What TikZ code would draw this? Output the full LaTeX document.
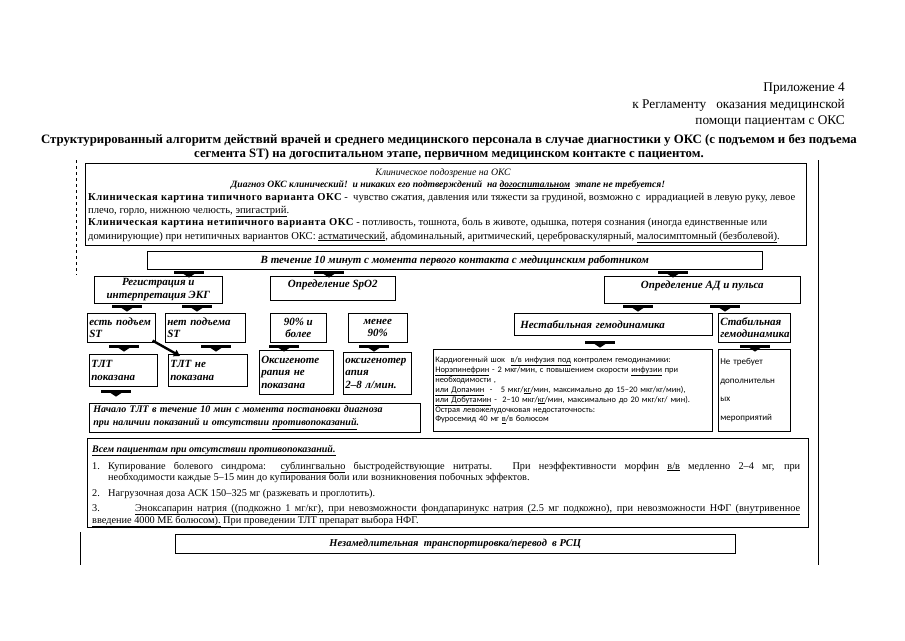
\documentclass[tikz,border=0pt]{standalone}
\usepackage{fontspec}
\setmainfont{Liberation Serif}
\newfontfamily\sansf{Carlito}
\usetikzlibrary{positioning,arrows.meta,calc}
\newcommand{\wbf}[1]{{\bfseries\addfontfeature{LetterSpace=5}#1}}

\tikzset{
  box/.style={draw, line width=0.6pt, inner sep=2pt, anchor=north west,
    font=\fontsize{11}{12.5}\selectfont\bfseries\itshape},
  txtline/.style={anchor=base west, inner sep=0pt, font=\fontsize{10.3}{11}\selectfont},
  cliline/.style={anchor=base west, inner sep=0pt, font=\fontsize{10.6}{12}\selectfont},
  frameline/.style={line width=1pt},
  blkarrow/.pic={
    \fill (-15,0) rectangle (15,3);
    \fill (-6,3) -- (6,3) -- (0,7) -- cycle;
  },
}

\begin{document}
\begin{tikzpicture}[x=1pt, y=-1pt, >=Stealth]
	\useasboundingbox (0,0) rectangle (905,640);
	% Шапка приложения
	\node[anchor=north east, align=right, inner sep=0pt, font=\fontsize{13.3}{16.5}\selectfont] (annex) at (845,83) {Приложение 4\\к Регламенту\ \ \ оказания медицинской\\помощи пациентам с ОКС};
	\node[anchor=north, align=center, inner sep=0pt, font=\fontsize{12.8}{14.5}\selectfont\bfseries] (title) at (449,134) {Структурированный алгоритм действий врачей и среднего медицинского персонала в случае диагностики у ОКС (с подъемом и без подъема\\сегмента ST) на догоспитальном этапе, первичном медицинском контакте с пациентом.};
	% Рамка справа и слева
	\draw[frameline] (818,160) -- (818,565);
	\draw[frameline, dashed] (76,160) -- (76,275);
	\draw[frameline] (80,532) -- (80,565);
	% Клиническая картина
	\node[draw, line width=0.6pt, anchor=north west, minimum width=721pt, minimum height=82pt, inner sep=0pt] (clin) at (85,163) {};
	\node[anchor=base, inner sep=0pt, font=\fontsize{9.8}{11}\selectfont\itshape] (susp) at (443,175) {Клиническое подозрение на ОКС};
	\node[anchor=base, inner sep=0pt, font=\fontsize{9.6}{11}\selectfont\bfseries\itshape] (diag) at (448,187) {Диагноз ОКС клинический!\ \ и никаких его подтверждений\ \ на \underline{догоспитальном}\ \ этапе не требуется!};
	\node[cliline] (typ1) at (88,200) {\wbf{Клиническая картина типичного варианта ОКС} -\ \ чувство сжатия, давления или тяжести за грудиной, возможно с\ \ иррадиацией в левую руку, левое};
	\node[cliline] (typ2) at (88,213) {плечо, горло, нижнюю челюсть, \underline{эпигастрий}.};
	\node[cliline] (atyp1) at (88,225) {\wbf{Клиническая картина нетипичного варианта ОКС} - потливость, тошнота, боль в животе, одышка, потеря сознания (иногда единственные или};
	\node[cliline] (atyp2) at (88,239) {доминирующие) при нетипичных вариантов ОКС: \underline{астматический}, абдоминальный, аритмический, цереброваскулярный, \underline{малосимптомный (безболевой)}.};
	% Первые 10 минут
	\node[box, minimum width=615pt, minimum height=18pt] (tenmin) at (147,251) {В течение 10 минут с момента первого контакта с медицинским работником};
	\foreach \x in {189,329,673} \pic at ($(\x,0 |- tenmin.south)+(0,1)$) {blkarrow};
	% Первый ряд
	\node[box, minimum width=128pt, minimum height=27pt, align=center] (ekg) at (94,276) {Регистрация и\\интерпретация ЭКГ};
	\node[box, minimum width=125pt, minimum height=24pt, text depth=9pt] (spo) at (270,276) {Определение SpO2};
	\node[box, minimum width=196pt, minimum height=27pt, text depth=11pt] (ad) at (604,276) {Определение АД и пульса};
	\foreach \x in {127,197} \pic at ($(\x,0 |- ekg.south)+(0,1)$) {blkarrow};
	\foreach \x in {638,725} \pic at ($(\x,0 |- ad.south)+(0,1)$) {blkarrow};
	% Второй ряд
	\node[box, text width=64pt, minimum height=29pt, align=left] (stup) at (87,313) {есть подъем\\ST};
	\node[box, text width=76pt, minimum height=29pt, align=left] (stno) at (165,313) {нет подъема\\ST};
	\node[box, minimum width=56pt, minimum height=29pt, align=center] (sathigh) at (270,313) {90\% и\\более};
	\node[box, minimum width=59pt, minimum height=29pt, align=center] (satlow) at (348,313) {менее\\90\%};
	\node[box, text width=194pt, minimum height=22pt, align=left] (unst) at (514,313) {\hspace{4pt}Нестабильная гемодинамика};
	\node[box, text width=68pt, minimum height=29pt, align=left] (stab) at (718,313) {Стабильная\\гемодинамика};
	\foreach \x in {124,216,284,374} \pic at ($(\x,0 |- stup.south)+(0,2)$) {blkarrow};
	\pic at ($(600,0 |- unst.south)+(0,5)$) {blkarrow};
	\pic at ($(755,0 |- stab.south)+(0,2)$) {blkarrow};
	% Третий ряд
	\node[box, text width=64pt, minimum height=32pt, align=left] (tltyes) at (89,354) {ТЛТ\\показана};
	\node[box, text width=75pt, minimum height=32pt, align=left] (tltno) at (168,354) {ТЛТ не\\показана};
	\node[box, text width=70pt, minimum height=44pt, align=left] (oxno) at (259,350) {Оксигеноте\\рапия не\\показана};
	\node[box, text width=64pt, minimum height=42pt, align=left] (oxyes) at (343,352) {оксигенотер\\апия\\2–8 л/мин.};
	\node[box, text width=275pt, minimum height=82pt, align=left, font=\sansf\fontsize{8.4}{9.9}\selectfont] (shock) at (433,349) {Кардиогенный шок\ \ \underline{в/в инфузия под} контролем гемодинамики:\\\underline{Норэпинефрин} - 2 мкг/мин, с повышением скорости \underline{инфузии} при\\необходимости ,\\\underline{или Допамин}\ \ -\ \ \ 5 мкг/\underline{кг}/мин, максимально до 15–20 мкг/кг/мин),\\\underline{или Добутамин} -\ \ 2–10 мкг/\underline{кг}/мин, максимально до 20 мкг/кг/ мин).\\Острая левожелудочковая недостаточность:\\Фуросемид 40 мг \underline{в}/в болюсом};
	\node[box, text width=68pt, minimum height=82pt, align=left, font=\sansf\fontsize{9}{18.5}\selectfont] (nomore) at (718,349) {Не требует\\дополнительн\\ых\\мероприятий};
	\draw[line width=2.4pt, -{Triangle[width=7pt,length=6pt]}] ([xshift=-3pt,yshift=2pt]stup.south east) -- ([xshift=12pt,yshift=-2pt]tltno.north west);
	\pic at ($(116,0 |- tltyes.south)+(0,3)$) {blkarrow};
	% Начало ТЛТ
	\node[box, text width=327pt, minimum height=29pt, align=left, font=\fontsize{10}{12.5}\selectfont\bfseries\itshape] (tltstart) at (89,403) {\hspace{2pt}Начало ТЛТ в течение 10 мин с момента постановки диагноза\\\hspace{2pt}при наличии показаний и отсутствии \underline{противопоказаний}.};
	% Всем пациентам
	\node[draw, line width=0.6pt, anchor=north west, minimum width=721pt, minimum height=89pt, inner sep=0pt] (all) at (87,438) {};
	\node[txtline, font=\fontsize{10}{11}\selectfont\bfseries\itshape] (allhead) at (92,452) {\underline{Всем пациентам при отсутствии противопоказаний.}};
	\node[txtline] (n1) at (92,469) {1.};
	\node[txtline] (item1a) at (108,469) {\makebox[692pt][s]{Купирование болевого синдрома: \underline{сублингвально} быстродействующие нитраты. При неэффективности морфин \underline{в/в} медленно 2–4 мг, при}};
	\node[txtline] (item1b) at (108,480) {необходимости каждые 5–15 мин до купирования боли или возникновения побочных эффектов.};
	\node[txtline] (n2) at (92,496) {2.};
	\node[txtline] (item2) at (108,496) {Нагрузочная доза АСК 150–325 мг (разжевать и проглотить).};
	\node[txtline] (n3) at (92,511) {3.};
	\node[txtline] (item3a) at (135,511) {\underline{\makebox[665pt][s]{Эноксапарин натрия ((подкожно 1 мг/кг), при невозможности фондапаринукс натрия (2.5 мг подкожно), при невозможности НФГ (внутривенное}}};
	\node[txtline] (item3b) at (92,523) {\underline{введение 4000 МЕ болюсом).} При проведении ТЛТ препарат выбора НФГ.};
	% Перевод
	\node[box, minimum width=560pt, minimum height=19pt, font=\fontsize{10.5}{12}\selectfont\bfseries\itshape] (transfer) at (175,534) {Незамедлительная\ \ транспортировка/перевод\ \ в РСЦ};
\end{tikzpicture}
\end{document}
